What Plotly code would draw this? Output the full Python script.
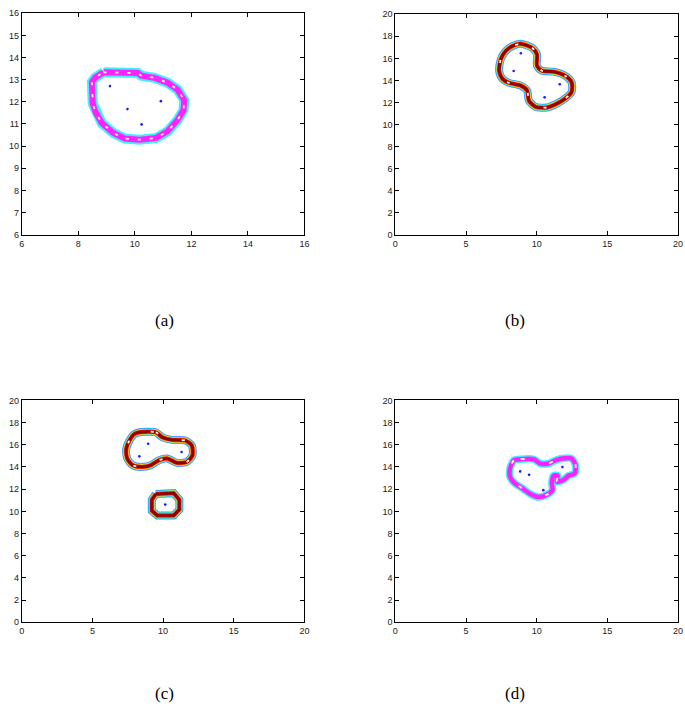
import plotly.graph_objects as go

# ---------------- data ----------------
# (a) outline and sample points
a_outline_x = [8.89, 10.11, 10.23, 10.70, 11.16, 11.51, 11.75, 11.72, 11.51, 11.16, 10.76, 10.17, 9.65, 9.24, 8.83, 8.60, 8.51, 8.48, 8.60]
a_outline_y = [13.33, 13.30, 13.18, 13.08, 12.86, 12.55, 12.07, 11.63, 11.18, 10.67, 10.37, 10.29, 10.34, 10.59, 11.04, 11.56, 11.92, 12.89, 13.10]
a_points_x = [9.12, 9.74, 10.92, 10.24]
a_points_y = [12.71, 11.67, 12.03, 10.98]

# (b) outline and sample points
b_outline_x = [8.86, 9.67, 10.02, 10.02, 10.37, 11.19, 12.00, 12.47, 12.47, 12.00, 11.42, 10.72, 9.91, 9.44, 9.32, 8.86, 8.04, 7.58, 7.34, 7.46, 7.81, 8.28]
b_outline_y = [17.32, 16.96, 16.37, 15.33, 14.88, 14.79, 14.43, 13.84, 12.95, 12.35, 11.90, 11.55, 11.61, 12.20, 13.10, 13.54, 13.78, 14.14, 14.88, 15.92, 16.67, 17.11]
b_points_x = [8.88, 8.37, 11.63, 10.56]
b_points_y = [16.46, 14.85, 13.66, 12.47]

# (c) two outlines and sample points
c_outline1_x = [8.32, 9.48, 9.94, 10.64, 11.57, 12.03, 12.08, 11.68, 10.99, 10.29, 9.71, 9.13, 8.55, 7.85, 7.46, 7.39, 7.62, 7.92]
c_outline1_y = [17.13, 17.13, 16.68, 16.44, 16.39, 15.94, 15.05, 14.46, 14.37, 14.76, 14.61, 14.16, 14.01, 14.16, 14.76, 15.64, 16.39, 16.92]
c_outline2_x = [9.48, 10.75, 11.15, 11.15, 10.75, 9.59, 9.20, 9.20]
c_outline2_y = [11.56, 11.64, 11.04, 10.16, 9.63, 9.63, 10.07, 11.04]
c_points_x = [8.94, 8.32, 11.31, 10.15]
c_points_y = [16.09, 14.96, 15.35, 10.61]

# (d) outline and sample points
d_outline_x = [8.39, 8.86, 9.79, 10.26, 10.84, 11.19, 11.77, 12.47, 12.75, 12.70, 12.24, 11.89, 11.42, 11.49, 11.19, 11.07, 11.12, 10.72, 10.14, 9.56, 8.97, 8.39, 8.11, 8.11, 8.28]
d_outline_y = [14.61, 14.70, 14.70, 14.31, 14.31, 14.52, 14.76, 14.76, 14.16, 13.42, 13.21, 12.83, 12.68, 13.21, 13.21, 12.53, 11.94, 11.50, 11.29, 11.56, 12.09, 12.59, 13.13, 13.87, 14.40]
d_points_x = [8.83, 9.46, 10.47, 11.82]
d_points_y = [13.60, 13.30, 11.91, 13.99]

captions = ["(a)", "(b)", "(c)", "(d)"]
a_range = [6, 16]
full_range = [0, 20]

# ---------------- styles ----------------
jet_layers = [("#5a8cff", 8.0), ("#19c8ff", 6.8), ("#c8f050", 5.6), ("#ff9a00", 4.8), ("#e01000", 3.9), ("#8a0000", 2.6)]
cool_layers_a = [("#3ff0ff", 10.0), ("#ff20ff", 6.0)]
cool_layers_d = [("#3ff0ff", 7.5), ("#ff20ff", 4.5)]

fig = go.Figure()

def closed(xs, ys):
    return list(xs) + [xs[0]], list(ys) + [ys[0]]

def add_band(xs, ys, layers, axis, shape="linear", white=None):
    cx, cy = closed(xs, ys)
    for col, w in layers:
        fig.add_trace(go.Scatter(x=cx, y=cy, mode="lines",
                                 line=dict(color=col, width=w, shape=shape, smoothing=0.7),
                                 xaxis="x" + axis, yaxis="y" + axis, hoverinfo="skip"))
    if white:
        fig.add_trace(go.Scatter(x=cx, y=cy, mode="lines",
                                 line=dict(color="white", width=1.8, dash=white, shape=shape, smoothing=0.7),
                                 xaxis="x" + axis, yaxis="y" + axis, hoverinfo="skip"))

def add_points(xs, ys, axis):
    fig.add_trace(go.Scatter(x=xs, y=ys, mode="markers",
                             marker=dict(color="#1a1aff", size=2.6),
                             xaxis="x" + axis, yaxis="y" + axis, hoverinfo="skip"))

add_band(a_outline_x, a_outline_y, cool_layers_a, "", white="3px,9px")
add_points(a_points_x, a_points_y, "")
add_band(b_outline_x, b_outline_y, jet_layers, "2", shape="spline", white="3px,22px")
add_points(b_points_x, b_points_y, "2")
add_band(c_outline1_x, c_outline1_y, jet_layers, "3", shape="spline", white="3px,25px")
add_band(c_outline2_x, c_outline2_y, jet_layers, "3")
add_points(c_points_x, c_points_y, "3")
add_band(d_outline_x, d_outline_y, cool_layers_d, "4", shape="spline", white="4px,26px")
add_points(d_points_x, d_points_y, "4")

W, H = 685, 719
def dx(p0, p1):
    return [p0 / W, p1 / W]
def dy(top, bottom):
    return [1 - bottom / H, 1 - top / H]

axis_common = dict(showline=True, linecolor="black", linewidth=1, mirror="ticks",
                   ticks="inside", ticklen=4, tickcolor="black", showgrid=False,
                   zeroline=False, tickfont=dict(family="Liberation Sans", size=9, color="#222"),
                   ticklabeloverflow="allow", fixedrange=True)

layout = dict(width=W, height=H, margin=dict(l=0, r=0, t=0, b=0),
              paper_bgcolor="white", plot_bgcolor="white", showlegend=False)

panels = [("", dx(19, 305), dy(8.3, 233), a_range, 2, 1),
          ("2", dx(397, 683), dy(9.3, 233.3), full_range, 5, 2),
          ("3", dx(19, 305), dy(401, 626), full_range, 5, 2),
          ("4", dx(397, 683), dy(401, 626), full_range, 5, 2)]
for ax, xd, yd, rng, xdt, ydt in panels:
    k = ax if ax else ""
    layout["xaxis" + k] = dict(axis_common, domain=xd, range=rng, dtick=xdt, tick0=rng[0],
                               anchor="y" + k)
    layout["yaxis" + k] = dict(axis_common, domain=yd, range=rng, dtick=ydt, tick0=rng[0],
                               anchor="x" + k)

fig.update_layout(**layout)

cap_pos = [(152, 320), (530, 320), (152, 710), (530, 710)]
for txt, (px, py) in zip(captions, cap_pos):
    fig.add_annotation(text=txt, x=px / W, y=1 - py / H, xref="paper", yref="paper",
                       showarrow=False, font=dict(family="Liberation Serif", size=17, color="black"))

fig.write_html("out.html", config={"displayModeBar": False},
               post_script="document.body.style.margin='0';document.body.style.overflow='hidden';")
